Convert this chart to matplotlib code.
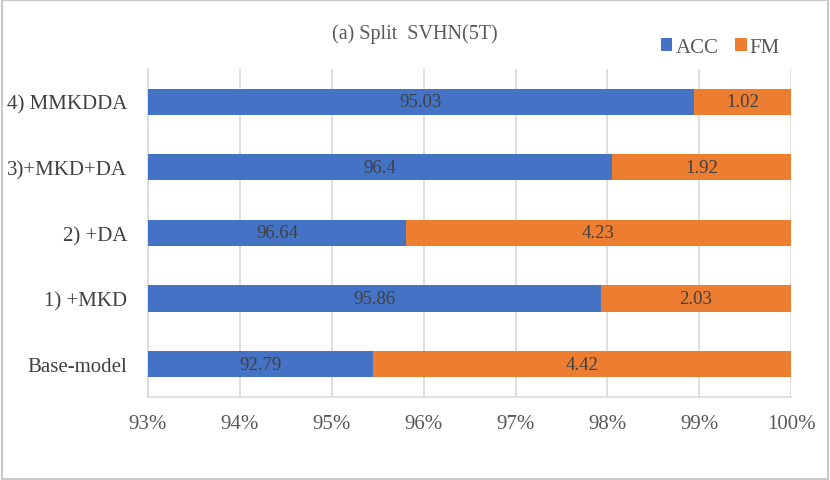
import matplotlib.pyplot as plt
from matplotlib.patches import Rectangle

# data
models = ["Base-model", "1) +MKD", "2) +DA", "3)+MKD+DA", "4) MMKDDA"]
acc = [92.79, 95.86, 96.64, 96.4, 95.03]
fm = [4.42, 2.03, 4.23, 1.92, 1.02]
ticks = [93, 94, 95, 96, 97, 98, 99, 100]

plt.rcParams['font.family'] = ['Liberation Serif', 'DejaVu Serif']

# 100% stacked shares
acc_pct = [a / (a + f) * 100 for a, f in zip(acc, fm)]
fm_pct = [100 - p for p in acc_pct]

fig = plt.figure(figsize=(8.3, 4.81), dpi=100)
ax = fig.add_axes([0.1783, 0.1726, 0.775, 0.682])

ax.barh(models, acc_pct, height=0.4, color="#4472C4", label="ACC", zorder=3)
ax.barh(models, fm_pct, left=acc_pct, height=0.4, color="#ED7D31", label="FM", zorder=3)

for i in range(len(models)):
    ax.text((93 + acc_pct[i]) / 2, i, f"{acc[i]}", ha="center", va="center",
            fontsize=13.5, color="#404040", zorder=4)
    ax.text((acc_pct[i] + 100) / 2, i, f"{fm[i]}", ha="center", va="center",
            fontsize=13.5, color="#404040", zorder=4)

ax.set_xlim(93, 100)
ax.set_ylim(-0.5, 4.5)
ax.set_xticks(ticks)
ax.set_xticklabels([f"{t}%" for t in ticks])
ax.tick_params(axis="x", length=0, pad=12, labelsize=15, labelcolor="#595959")
ax.tick_params(axis="y", length=0, pad=15, labelsize=15, labelcolor="#404040")
ax.grid(axis="x", color="#d9d9d9", linewidth=1.2, zorder=0)
for s in ["top", "right"]:
    ax.spines[s].set_visible(False)
for s in ["left", "bottom"]:
    ax.spines[s].set_color("#d9d9d9")
    ax.spines[s].set_linewidth(1.2)

fig.text(0.5, 0.93, "(a) Split  SVHN(5T)", ha="center", va="center",
         fontsize=14.5, color="#595959")
fig.legend(loc="center", bbox_to_anchor=(0.868, 0.899), ncol=2, frameon=False,
           fontsize=15, handlelength=0.55, handleheight=0.55, handletextpad=0.15,
           columnspacing=0.8, labelcolor="#595959")

fig.patches.append(Rectangle((0.002, 0.003), 0.996, 0.994, transform=fig.transFigure,
                             fill=False, edgecolor="#c8c8c8", linewidth=1.5))

plt.savefig("out.png")
